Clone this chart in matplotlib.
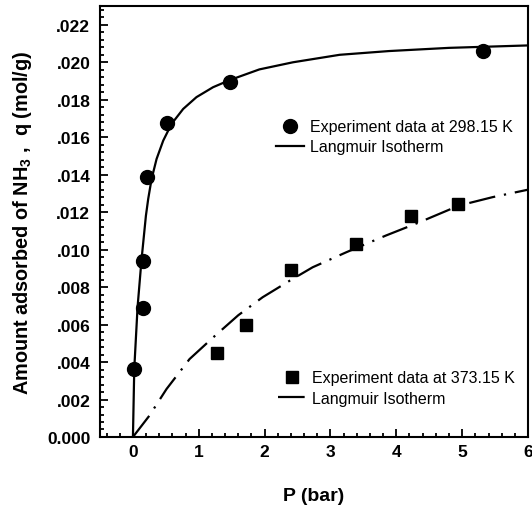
import numpy as np
import matplotlib
matplotlib.use('Agg')
import matplotlib.pyplot as plt
from matplotlib.ticker import MultipleLocator, FuncFormatter

plt.rcParams['font.family'] = ['Liberation Sans', 'DejaVu Sans']
plt.rcParams['mathtext.fontset'] = 'custom'
plt.rcParams['mathtext.rm'] = 'Liberation Sans:bold'
plt.rcParams['mathtext.default'] = 'rm'

# experiment data at 298.15 K
p_298 = [0.02, 0.15, 0.16, 0.22, 0.52, 1.48, 5.31]
q_298 = [0.00363, 0.00941, 0.00689, 0.01387, 0.01675, 0.01894, 0.02060]

# experiment data at 373.15 K
p_373 = [1.27, 1.72, 2.40, 3.39, 4.22, 4.93]
q_373 = [0.00448, 0.00598, 0.00893, 0.01030, 0.01181, 0.01244]

# Langmuir isotherm curves
fit_p_298 = [0.0, 0.02, 0.07, 0.13, 0.197, 0.232, 0.283, 0.359, 0.46, 0.586,
             0.763, 0.965, 1.217, 1.47, 1.92, 2.43, 3.14, 3.89, 4.80, 6.0]
fit_q_298 = [0.0, 0.00363, 0.00692, 0.00945, 0.01181, 0.01271, 0.01377, 0.01484,
             0.01582, 0.01671, 0.01751, 0.01814, 0.01867, 0.01905, 0.01962,
             0.0200, 0.0204, 0.0206, 0.02077, 0.0209]
fit_p_373 = [0.0, 0.25, 0.51, 0.86, 1.22, 1.60, 1.97, 2.38, 2.73, 3.24, 3.84,
             4.35, 4.95, 5.46, 6.0]
fit_q_373 = [0.0, 0.00114, 0.00256, 0.00416, 0.00532, 0.00650, 0.00746, 0.00834,
             0.00906, 0.00986, 0.01075, 0.01146, 0.01235, 0.0128, 0.0132]

fig = plt.figure(figsize=(5.32, 5.06), dpi=100)
ax = fig.add_axes([0.188, 0.1344, 0.8045, 0.8516])

l1, = ax.plot(fit_p_298, fit_q_298, color='black', lw=1.6)
s1, = ax.plot(p_298, q_298, 'o', color='black', ms=10, ls='none')
l2, = ax.plot(fit_p_373, fit_q_373, color='black', lw=1.6,
              linestyle=(0, (12, 4, 1, 4)))
s2, = ax.plot(p_373, q_373, 's', color='black', ms=8.5, ls='none')

ax.set_xlim(-0.5, 6)
ax.set_ylim(0, 0.023)

ax.xaxis.set_major_locator(MultipleLocator(1))
ax.xaxis.set_minor_locator(MultipleLocator(0.2))
ax.yaxis.set_major_locator(MultipleLocator(0.002))
ax.yaxis.set_minor_locator(MultipleLocator(0.0004))

def yfmt(v, pos):
    if abs(v) < 1e-9:
        return '0.000'
    return ('%.3f' % v).lstrip('0')

def xfmt(v, pos):
    return '%d' % round(v) if v >= 0 else ''

ax.yaxis.set_major_formatter(FuncFormatter(yfmt))
ax.xaxis.set_major_formatter(FuncFormatter(xfmt))

ax.tick_params(which='both', direction='in', top=False, right=False,
               width=1.3, labelsize=12.5)
ax.tick_params(which='major', length=6)
ax.tick_params(which='minor', length=3)
ax.tick_params(axis='x', which='major', pad=5)
ax.tick_params(axis='y', which='major', pad=7)
for lab in ax.get_xticklabels() + ax.get_yticklabels():
    lab.set_fontweight('bold')
for sp in ax.spines.values():
    sp.set_linewidth(1.5)

ax.set_xlabel('P (bar)', fontsize=14, fontweight='bold')
ax.set_ylabel(r'Amount adsorbed of NH$_3$ ,  q (mol/g)', fontsize=14.3,
              fontweight='bold')
ax.xaxis.set_label_coords(0.5, -0.115)
ax.yaxis.set_label_coords(-0.155, 0.5)

leg1 = ax.legend([s1, l1], ['Experiment data at 298.15 K', 'Langmuir Isotherm'],
                 loc='upper left', bbox_to_anchor=(0.519, 0.762),
                 bbox_transform=fig.transFigure, frameon=False, fontsize=11.5,
                 handlelength=1.75, handletextpad=0.4, labelspacing=0.3,
                 borderpad=0, borderaxespad=0)
ax.add_artist(leg1)
ax.legend([s2, l2], ['Experiment data at 373.15 K', 'Langmuir Isotherm'],
          loc='upper left', bbox_to_anchor=(0.5226, 0.266),
          bbox_transform=fig.transFigure, frameon=False, fontsize=11.5,
          handlelength=1.75, handletextpad=0.4, labelspacing=0.35,
          borderpad=0, borderaxespad=0)

fig.savefig('out.png', dpi=100)
